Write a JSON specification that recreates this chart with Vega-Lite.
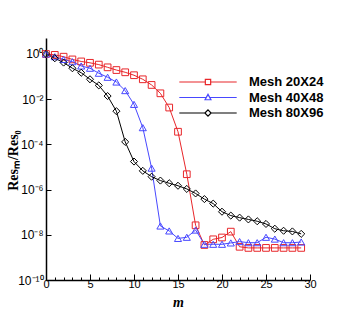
{
  "$schema": "https://vega.github.io/schema/vega-lite/v6.json",
  "autosize": {"type": "none"},
  "padding": {"left": 46, "top": 38, "right": 44, "bottom": 35},
  "width": 264,
  "height": 242,
  "background": "white",
  "config": {"view": {"stroke": null}, "axis": {"grid": false}},
  "data": {"values": [
    {"m":0,"s":"Mesh 20X24","r":1},{"m":1,"s":"Mesh 20X24","r":0.912},{"m":2,"s":"Mesh 20X24","r":0.759},{"m":3,"s":"Mesh 20X24","r":0.575},{"m":4,"s":"Mesh 20X24","r":0.468},{"m":5,"s":"Mesh 20X24","r":0.407},{"m":6,"s":"Mesh 20X24","r":0.339},{"m":7,"s":"Mesh 20X24","r":0.257},{"m":8,"s":"Mesh 20X24","r":0.195},{"m":9,"s":"Mesh 20X24","r":0.155},{"m":10,"s":"Mesh 20X24","r":0.115},{"m":11,"s":"Mesh 20X24","r":0.0759},{"m":12,"s":"Mesh 20X24","r":0.0427},{"m":13,"s":"Mesh 20X24","r":0.0182},{"m":14,"s":"Mesh 20X24","r":0.00427},{"m":15,"s":"Mesh 20X24","r":0.000363},{"m":16,"s":"Mesh 20X24","r":4.79e-6},{"m":17,"s":"Mesh 20X24","r":2.63e-8},{"m":18,"s":"Mesh 20X24","r":3.55e-9},{"m":19,"s":"Mesh 20X24","r":6.31e-9},{"m":20,"s":"Mesh 20X24","r":7.59e-9},{"m":21,"s":"Mesh 20X24","r":1.38e-8},{"m":22,"s":"Mesh 20X24","r":2.95e-9},{"m":23,"s":"Mesh 20X24","r":2.63e-9},{"m":24,"s":"Mesh 20X24","r":2.63e-9},{"m":25,"s":"Mesh 20X24","r":2.63e-9},{"m":26,"s":"Mesh 20X24","r":2.63e-9},{"m":27,"s":"Mesh 20X24","r":2.63e-9},{"m":28,"s":"Mesh 20X24","r":2.63e-9},{"m":29,"s":"Mesh 20X24","r":2.63e-9},
    {"m":0,"s":"Mesh 40X48","r":1},{"m":1,"s":"Mesh 40X48","r":0.759},{"m":2,"s":"Mesh 40X48","r":0.575},{"m":3,"s":"Mesh 40X48","r":0.457},{"m":4,"s":"Mesh 40X48","r":0.295},{"m":5,"s":"Mesh 40X48","r":0.234},{"m":6,"s":"Mesh 40X48","r":0.141},{"m":7,"s":"Mesh 40X48","r":0.0933},{"m":8,"s":"Mesh 40X48","r":0.0575},{"m":9,"s":"Mesh 40X48","r":0.024},{"m":10,"s":"Mesh 40X48","r":0.00589},{"m":11,"s":"Mesh 40X48","r":0.00055},{"m":12,"s":"Mesh 40X48","r":8.91e-6},{"m":13,"s":"Mesh 40X48","r":2.45e-8},{"m":14,"s":"Mesh 40X48","r":1.48e-8},{"m":15,"s":"Mesh 40X48","r":6.92e-9},{"m":16,"s":"Mesh 40X48","r":7.76e-9},{"m":17,"s":"Mesh 40X48","r":1.62e-8},{"m":18,"s":"Mesh 40X48","r":3.8e-9},{"m":19,"s":"Mesh 40X48","r":3.8e-9},{"m":20,"s":"Mesh 40X48","r":3.8e-9},{"m":21,"s":"Mesh 40X48","r":4.37e-9},{"m":22,"s":"Mesh 40X48","r":5.01e-9},{"m":23,"s":"Mesh 40X48","r":4.47e-9},{"m":24,"s":"Mesh 40X48","r":4.47e-9},{"m":25,"s":"Mesh 40X48","r":7.76e-9},{"m":26,"s":"Mesh 40X48","r":6.46e-9},{"m":27,"s":"Mesh 40X48","r":4.47e-9},{"m":28,"s":"Mesh 40X48","r":4.47e-9},{"m":29,"s":"Mesh 40X48","r":4.79e-9},
    {"m":0,"s":"Mesh 80X96","r":1},{"m":1,"s":"Mesh 80X96","r":0.646},{"m":2,"s":"Mesh 80X96","r":0.417},{"m":3,"s":"Mesh 80X96","r":0.234},{"m":4,"s":"Mesh 80X96","r":0.148},{"m":5,"s":"Mesh 80X96","r":0.0759},{"m":6,"s":"Mesh 80X96","r":0.0407},{"m":7,"s":"Mesh 80X96","r":0.0138},{"m":8,"s":"Mesh 80X96","r":0.00295},{"m":9,"s":"Mesh 80X96","r":0.000129},{"m":10,"s":"Mesh 80X96","r":1.74e-5},{"m":11,"s":"Mesh 80X96","r":6.76e-6},{"m":12,"s":"Mesh 80X96","r":3.72e-6},{"m":13,"s":"Mesh 80X96","r":2.51e-6},{"m":14,"s":"Mesh 80X96","r":1.91e-6},{"m":15,"s":"Mesh 80X96","r":1.48e-6},{"m":16,"s":"Mesh 80X96","r":1.07e-6},{"m":17,"s":"Mesh 80X96","r":6.76e-7},{"m":18,"s":"Mesh 80X96","r":3.8e-7},{"m":19,"s":"Mesh 80X96","r":2.4e-7},{"m":20,"s":"Mesh 80X96","r":1.05e-7},{"m":21,"s":"Mesh 80X96","r":7.08e-8},{"m":22,"s":"Mesh 80X96","r":5.75e-8},{"m":23,"s":"Mesh 80X96","r":4.79e-8},{"m":24,"s":"Mesh 80X96","r":3.98e-8},{"m":25,"s":"Mesh 80X96","r":3.02e-8},{"m":26,"s":"Mesh 80X96","r":1.86e-8},{"m":27,"s":"Mesh 80X96","r":1.51e-8},{"m":28,"s":"Mesh 80X96","r":1.41e-8},{"m":29,"s":"Mesh 80X96","r":1.1e-8}
  ]},
  "encoding": {
    "x": {
      "field": "m", "type": "quantitative",
      "scale": {"domain": [0, 30], "nice": false, "zero": false},
      "axis": {
        "values": [0,1,2,3,4,5,6,7,8,9,10,11,12,13,14,15,16,17,18,19,20,21,22,23,24,25,26,27,28,29,30],
        "labelExpr": "datum.value % 5 === 0 ? datum.label : ''",
        "tickSize": {"condition": {"test": "datum.value % 5 === 0", "value": -6}, "value": -3},
        "tickColor": "black", "tickWidth": 1,
        "domainColor": "black", "domainWidth": 1.5,
        "labelFont": "Liberation Sans", "labelFontSize": 11, "labelColor": "black", "labelPadding": 4,
        "labelFlush": false, "labelOverlap": false,
        "title": "m", "titleFont": "Liberation Serif", "titleFontStyle": "italic", "titleFontWeight": "bold", "titleFontSize": 14, "titleColor": "black",
        "titleX": 132, "titleY": 22, "titleBaseline": "middle", "titleAlign": "center"
      }
    },
    "y": {
      "field": "r", "type": "quantitative",
      "scale": {"type": "log", "domain": [1e-10, 5.1], "nice": false},
      "axis": {
        "values": [1e-10, 1e-8, 1e-6, 1e-4, 1e-2, 1],
        "labelExpr": "datum.value > 0.5 ? '10⁰' : datum.value > 5e-3 ? '10⁻²' : datum.value > 5e-5 ? '10⁻⁴' : datum.value > 5e-7 ? '10⁻⁶' : datum.value > 5e-9 ? '10⁻⁸' : '10⁻¹⁰'",
        "tickSize": -5, "tickColor": "black", "tickWidth": 1,
        "domainColor": "black", "domainWidth": 1.5,
        "labelFont": "Liberation Sans", "labelFontSize": 12, "labelColor": "black", "labelPadding": 8,
        "labelFlush": false, "labelOverlap": false,
        "title": "Resₘ/Res₀", "titleFont": "Liberation Serif", "titleFontWeight": "bold", "titleFontSize": 14, "titleColor": "black",
        "titleAngle": -90, "titleX": -33, "titleY": 122, "titleBaseline": "middle", "titleAlign": "center"
      }
    },
    "color": {
      "field": "s", "type": "nominal",
      "scale": {"domain": ["Mesh 20X24", "Mesh 40X48", "Mesh 80X96"], "range": ["#e8262a", "#4848ff", "#000000"]},
      "legend": {
        "title": null, "orient": "none", "legendX": 154, "legendY": 36, "padding": 0,
        "labelFont": "Liberation Sans", "labelFontWeight": "bold", "labelFontSize": 13, "labelColor": "black",
        "labelOffset": 33, "rowPadding": 0.5, "symbolSize": 196, "symbolStrokeWidth": 1.2,
        "encode": {"symbols": {"update": {
          "shape": {"signal": "datum.value === 'Mesh 20X24' ? 'M-4.1,0H-0.38M0.38,0H4.1M-0.38,-0.38H0.38V0.38H-0.38Z' : datum.value === 'Mesh 40X48' ? 'M-4.1,0H-0.26M0.26,0H4.1M0,-0.45L0.42,0.32H-0.42Z' : 'M-4.1,0H-0.45M0.45,0H4.1M0,-0.45L0.45,0L0,0.45L-0.45,0Z'"},
          "size": {"value": 196},
          "fill": {"value": "transparent"},
          "strokeWidth": {"value": 1.2}
        }}}
      }
    }
  },
  "layer": [
    {"mark": {"type": "line", "strokeWidth": 1}},
    {"transform": [{"filter": "datum.s === 'Mesh 20X24'"}], "mark": {"type": "point", "shape": "square", "filled": false, "strokeWidth": 1, "size": 45, "opacity": 1}},
    {"transform": [{"filter": "datum.s === 'Mesh 40X48'"}], "mark": {"type": "point", "shape": "triangle-up", "filled": false, "strokeWidth": 1, "size": 50, "opacity": 1}},
    {"transform": [{"filter": "datum.s === 'Mesh 80X96'"}], "mark": {"type": "point", "shape": "diamond", "filled": false, "strokeWidth": 1, "size": 50, "opacity": 1}}
  ]
}
